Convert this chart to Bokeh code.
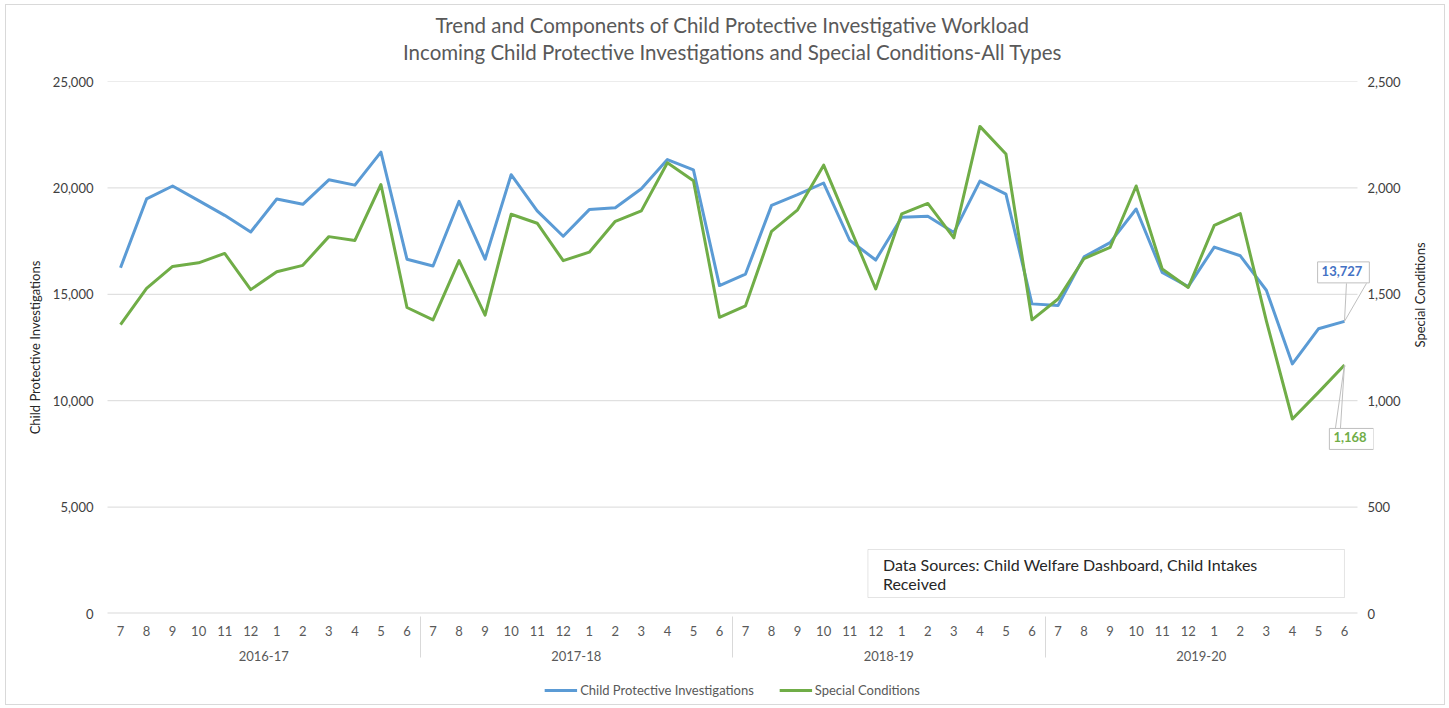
import math
from bokeh.plotting import figure
from bokeh.layouts import column
from bokeh.models import (FactorRange, Range1d, LinearAxis, FixedTicker, NumeralTickFormatter,
                          Title, Label, Legend, LegendItem, BoxAnnotation, Arrow, ColumnDataSource)
from bokeh.embed import file_html
from bokeh.resources import INLINE

# ---------------- data ----------------
years = ["2016-17", "2017-18", "2018-19", "2019-20"]
months = ["7", "8", "9", "10", "11", "12", "1", "2", "3", "4", "5", "6"]

cpi = [16250, 19480, 20090, 19400, 18710, 17930, 19480, 19230, 20380, 20130, 21680, 16650,
       16330, 19370, 16650, 20620, 18920, 17730, 18980, 19070, 19960, 21330, 20850, 15410,
       15950, 19180, 19680, 20230, 17540, 16610, 18620, 18670, 17900, 20320, 19710, 14550,
       14470, 16760, 17430, 19010, 16030, 15360, 17220, 16810, 15190, 11730, 13380, 13727]

special = [1357, 1528, 1631, 1648, 1692, 1522, 1606, 1636, 1771, 1753, 2016, 1438,
           1380, 1658, 1402, 1876, 1834, 1658, 1698, 1843, 1892, 2118, 2034, 1392,
           1446, 1796, 1897, 2107, 1817, 1525, 1878, 1927, 1765, 2289, 2159, 1380,
           1478, 1668, 1720, 2009, 1619, 1532, 1824, 1879, 1375, 914, 1039, 1168]

left_ticks = [0, 5000, 10000, 15000, 20000, 25000]
right_ticks = [0, 500, 1000, 1500, 2000, 2500]

series_names = ["Child Protective Investigations", "Special Conditions"]
title1 = "Trend and Components of Child Protective Investigative Workload"
title2 = "Incoming Child Protective Investigations and Special Conditions-All Types"
source_note = "Data Sources: Child Welfare Dashboard, Child Intakes\nReceived"

BLUE = "#5B9BD5"
GREEN = "#70AD47"
GRID = "#D9D9D9"
TXT = "#595959"
FONT = "Lato"

factors = [(y, m) for y in years for m in months]
src = ColumnDataSource(dict(x=factors, cpi=cpi, sc=special))
n = len(factors)

CAT_PX = 1250 / n          # px per category
PAD_PX = 16                # extra room at both ends of the x range
frame_w = 1250 + 2 * PAD_PX
frame_h = 532
ML, MR, MT, MB = 85, 71, 76, 63
TOTAL_W = ML + frame_w + MR
LEG_H = 28

p = figure(frame_width=frame_w, frame_height=frame_h, output_backend="svg",
           toolbar_location=None,
           x_range=FactorRange(*factors, factor_padding=0, group_padding=0,
                               subgroup_padding=0, range_padding=PAD_PX / CAT_PX,
                               range_padding_units="absolute"),
           y_range=Range1d(left_ticks[0], left_ticks[-1]),
           min_border_left=ML, min_border_right=MR, min_border_top=MT, min_border_bottom=MB,
           background_fill_color="white", border_fill_color="white")
p.outline_line_color = None
p.extra_y_ranges = {"sc": Range1d(right_ticks[0], right_ticks[-1])}

# titles: spacer (closest to frame), then line 2, then line 1
p.add_layout(Title(text=" ", text_font_size="1px", standoff=13), "above")
p.add_layout(Title(text=title2, align="center", text_font_size="20.5px", text_color=TXT,
                   text_font=FONT, text_font_style="normal", standoff=3), "above")
p.add_layout(Title(text=title1, align="center", text_font_size="20.5px", text_color=TXT,
                   text_font=FONT, text_font_style="normal", standoff=0), "above")

# grid: drawn across the category span only
p.xgrid.grid_line_color = None
p.ygrid.grid_line_color = None
p.segment(x0=[0] * (len(left_ticks) - 1), x1=[n] * (len(left_ticks) - 1),
          y0=left_ticks[1:], y1=left_ticks[1:], line_color=GRID, line_width=1)
p.segment(x0=[0], x1=[n], y0=[left_ticks[0]], y1=[left_ticks[0]], line_color=GRID,
          line_width=2)

# axes
ya = p.yaxis[0]
ya.ticker = FixedTicker(ticks=left_ticks)
ya.formatter = NumeralTickFormatter(format="0,0")
ya.axis_label = series_names[0]

ra = LinearAxis(y_range_name="sc", ticker=FixedTicker(ticks=right_ticks),
                formatter=NumeralTickFormatter(format="0,0"), axis_label=series_names[1])
p.add_layout(ra, "right")
ra.axis_label_orientation = math.pi / 2

for ax in (ya, ra):
    ax.axis_line_color = None
    ax.major_tick_line_color = None
    ax.minor_tick_line_color = None
    ax.major_tick_out = 0
    ax.major_tick_in = 0
    ax.major_label_text_font = FONT
    ax.major_label_text_font_size = "13px"
    ax.major_label_text_color = "#404040"
    ax.axis_label_text_font = FONT
    ax.axis_label_text_font_size = "13px"
    ax.axis_label_text_font_style = "normal"
    ax.axis_label_text_color = "#262626"
ya.major_label_standoff = -2
ra.major_label_standoff = -6
ya.axis_label_standoff = 7
ra.axis_label_standoff = 16

xa = p.xaxis[0]
xa.axis_label = None
xa.axis_line_color = None
xa.major_tick_line_color = None
xa.minor_tick_line_color = None
xa.major_tick_out = 0
xa.major_tick_in = 0
xa.major_label_text_font = FONT
xa.major_label_text_font_size = "13px"
xa.major_label_text_color = TXT
xa.major_label_standoff = 12
xa.group_text_font = FONT
xa.group_text_font_size = "13px"
xa.group_text_color = TXT
xa.group_text_font_style = "normal"
xa.separator_line_color = GRID
xa.separator_line_width = 1

# lines
p.line("x", "cpi", source=src, line_color=BLUE, line_width=3, line_join="round")
p.line("x", "sc", source=src, y_range_name="sc", line_color=GREEN, line_width=3,
       line_join="round")

# pixel -> data helpers
ux = 1 / CAT_PX                        # x units per px
uy_l = left_ticks[-1] / frame_h        # left units per px
uy_r = right_ticks[-1] / frame_h       # right units per px
xlast = n - 0.5

# callouts
lab1 = Label(x=xlast, y=cpi[-1], x_offset=-1, y_offset=49, text=f"{cpi[-1]:,}",
             text_align="center", text_baseline="middle", text_color="#4472C4",
             text_font=FONT, text_font_style="bold", text_font_size="13px",
             background_fill_color="white", border_line_color="#BFBFBF", padding=(4, 7, 4, 7))
for dx in (2, 22):
    p.add_layout(Arrow(end=None, x_start=xlast, y_start=cpi[-1],
                       x_end=xlast + dx * ux, y_end=cpi[-1] + 38 * uy_l,
                       line_color="#BFBFBF", line_width=1))
p.add_layout(lab1)

lab2 = Label(x=xlast, y=special[-1], y_range_name="sc", x_offset=7, y_offset=-74,
             text=f"{special[-1]:,}", text_align="center", text_baseline="middle",
             text_color=GREEN, text_font=FONT, text_font_style="bold", text_font_size="13px",
             background_fill_color="white", border_line_color="#BFBFBF", padding=(4, 7, 4, 7))
for dx in (-9, -4):
    p.add_layout(Arrow(end=None, x_start=xlast, y_start=special[-1],
                       x_end=xlast + dx * ux, y_end=special[-1] - 63 * uy_r,
                       y_range_name="sc", line_color="#BFBFBF", line_width=1))
p.add_layout(lab2)

# data source box
box_l = 29.2
box_r = 47.5
box_top = 64 * uy_l
box_bot = 16 * uy_l
p.add_layout(BoxAnnotation(left=box_l, right=box_r, bottom=box_bot, top=box_top,
                           fill_color="white", fill_alpha=1, line_color="#A6A6A6",
                           line_width=1))
p.add_layout(Label(x=box_l + 15 * ux, y=box_top - 5 * uy_l, text=source_note,
                   text_align="left", text_baseline="top", text_font=FONT,
                   text_font_size="16px", text_color="#262626", text_line_height=1.05))

# ---------------- legend strip (below the category axis) ----------------
lg = figure(width=TOTAL_W, height=LEG_H, output_backend="svg", toolbar_location=None,
            x_range=Range1d(0, 1), y_range=Range1d(0, 1),
            x_axis_location=None, y_axis_location=None,
            min_border_left=0, min_border_right=0, min_border_top=0, min_border_bottom=0,
            background_fill_color="white", border_fill_color="white")
lg.outline_line_color = None
lg.xgrid.grid_line_color = None
lg.ygrid.grid_line_color = None
# legend keys: the same series, lying outside this strip's view (only the keys show)
key_src = ColumnDataSource(dict(x=list(range(n)), cpi=cpi, sc=special))
k1 = lg.line("x", "cpi", source=key_src, line_color=BLUE, line_width=3)
k2 = lg.line("x", "sc", source=key_src, line_color=GREEN, line_width=3)
legend = Legend(items=[LegendItem(label=series_names[0], renderers=[k1]),
                       LegendItem(label=series_names[1], renderers=[k2])],
                orientation="horizontal", location="center", border_line_color=None,
                background_fill_alpha=0, label_text_font=FONT, label_text_font_size="13px",
                label_text_color=TXT, glyph_width=33, glyph_height=12, spacing=25,
                label_standoff=3, padding=0, margin=0)
lg.add_layout(legend, "center")

layout = column(p, lg, spacing=0)
layout.margin = (4, 0, 0, 5)
layout.styles = {"border": "1px solid #D9D9D9"}

open("out.html", "w").write(file_html(layout, INLINE))
